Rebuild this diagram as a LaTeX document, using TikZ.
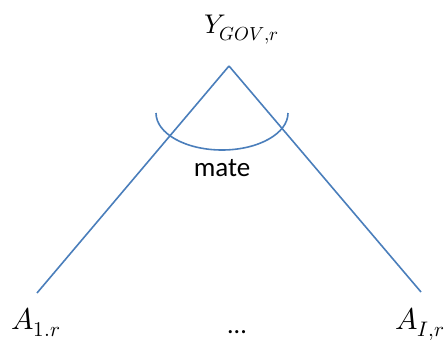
\documentclass[tikz,border=0pt]{standalone}
\usepackage{unicode-math}
\setmathfont{Latin Modern Math}
\setsansfont{Carlito}
\begin{document}
\begin{tikzpicture}[x=1pt,y=-1pt,
  edge/.style={draw=linecol,line width=1.6pt},
  lbl/.style={inner sep=0pt,anchor=base}]
\definecolor{linecol}{HTML}{4A7EBB}
\useasboundingbox (0,0) rectangle (445,340);
\coordinate (apex) at (229,66);
\coordinate (lend) at (37,293);
\coordinate (rend) at (421,292);
\coordinate (arcL) at (156,113);
\draw[edge] (apex) -- (lend);
\draw[edge] (apex) -- (rend);
\draw[edge] (arcL) arc[start angle=180,end angle=360,x radius=66,y radius=-37];
\node[lbl,anchor=base west] (ytop) at (204,34) {\fontsize{27}{30}\selectfont $Y_{GOV,r}$};
\node[lbl] (mate) at (222,176) {\fontsize{27}{30}\selectfont\sffamily mate};
\node[lbl,anchor=base west] (a1) at (11,329) {\fontsize{30}{34}\selectfont $A_{1.r}$};
\node[lbl] (dots) at (237,333) {\fontsize{26}{30}\selectfont\sffamily ...};
\node[lbl,anchor=base west] (ai) at (395,329) {\fontsize{30}{34}\selectfont $A_{I,r}$};
\end{tikzpicture}
\end{document}
